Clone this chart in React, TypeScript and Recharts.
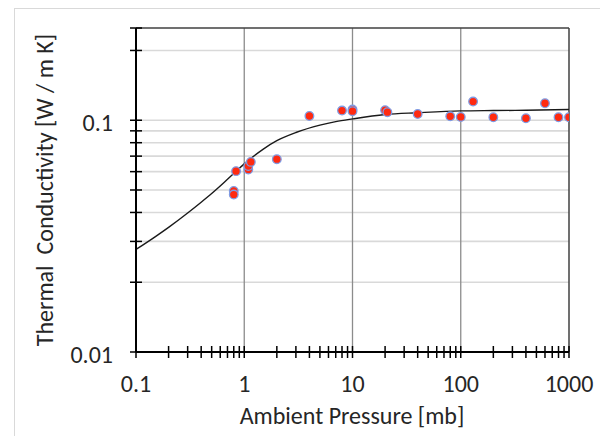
import { ComposedChart, XAxis, YAxis, Line, Scatter, ReferenceLine } from 'recharts'

// measured points: pressure [mb] / thermal conductivity [W/m K]
const pressure = [0.8, 0.8, 0.84, 1.09, 1.09, 1.15, 2, 4, 8, 10, 10, 20, 21, 40, 80, 100, 130, 200, 400, 600, 800, 1000]
const conductivity = [0.0495, 0.0478, 0.0603, 0.0613, 0.0634, 0.0661, 0.0679, 0.1043, 0.1101, 0.1112, 0.1094, 0.1104, 0.1083, 0.1064, 0.104, 0.1033, 0.1204, 0.103, 0.102, 0.1184, 0.103, 0.103]

// fitted curve
const curveP = [0.1, 0.15, 0.2, 0.3, 0.4, 0.5, 0.7, 1, 1.5, 2, 3, 5, 7, 10, 20, 40, 100, 200, 400, 1000]
const curveK = [0.0277, 0.0314, 0.0345, 0.0398, 0.0443, 0.0483, 0.0556, 0.0648, 0.0751, 0.0816, 0.0885, 0.0952, 0.0986, 0.1013, 0.1058, 0.1077, 0.1097, 0.1101, 0.1104, 0.1112]

const xTicks = [0.1, 0.2, 0.3, 0.4, 0.5, 0.6, 0.7, 0.8, 0.9, 1, 2, 3, 4, 5, 6, 7, 8, 9, 10, 20, 30, 40, 50, 60, 70, 80, 90, 100, 200, 300, 400, 500, 600, 700, 800, 900, 1000]
const xLabels = [0.1, 1, 10, 100, 1000]
const yTicks = [0.01, 0.02, 0.03, 0.04, 0.05, 0.06, 0.07, 0.08, 0.09, 0.1, 0.2, 0.25]
const yLabels = [0.01, 0.1]
const hGrid = [0.02, 0.03, 0.04, 0.05, 0.06, 0.07, 0.08, 0.09, 0.1, 0.2]
const vGrid = [1, 10, 100]

const points = pressure.map((x, i) => ({ x, y: conductivity[i] }))
const curve = curveP.map((x, i) => ({ x, y: curveK[i] }))

const FONT = 'Carlito, Calibri, Lato, sans-serif'
const TEXT = '#262626'
const FS = 24

const XTick = (props: any) => {
  const { x, y, payload } = props
  const v = payload.value
  return (
    <g>
      <line x1={x} x2={x} y1={y - 6} y2={y + 6} stroke="#000" strokeWidth={1.5} />
      {xLabels.includes(v) && (
        <text x={x} y={y + 40} textAnchor="middle" fontFamily={FONT} fontSize={FS} fill={TEXT}>
          {String(v)}
        </text>
      )}
    </g>
  )
}

const YTick = (props: any) => {
  const { x, y, payload } = props
  const v = payload.value
  return (
    <g>
      <line x1={x - 6} x2={x + 6} y1={y} y2={y} stroke="#000" strokeWidth={1.5} />
      {yLabels.includes(v) && (
        <text x={x - 23} y={y + 11} textAnchor="end" fontFamily={FONT} fontSize={FS} fill={TEXT}>
          {String(v)}
        </text>
      )}
    </g>
  )
}

const Dot = (props: any) => (
  <circle cx={props.cx} cy={props.cy} r={4.3} fill="#ff2a10" stroke="#7f9be3" strokeWidth={1.3} />
)

export default function App() {
  return (
    <div style={{ position: 'absolute', left: 0, top: 0, width: 600, height: 436, overflow: 'hidden', background: '#fff' }}>
      <div
        style={{
          position: 'absolute',
          left: 14,
          top: 8,
          width: 700,
          height: 600,
          border: '1px solid #d9d9d9',
        }}
      />
      <div style={{ position: 'absolute', left: 0, top: 0 }}>
        <ComposedChart width={600} height={436} margin={{ top: 28, right: 31, left: 36, bottom: 0 }}>
          <XAxis
            dataKey="x"
            type="number"
            scale="log"
            domain={[0.1, 1000]}
            allowDataOverflow
            ticks={xTicks}
            interval={0}
            tick={<XTick />}
            tickLine={false}
            tickSize={0}
            tickMargin={0}
            height={84}
            axisLine={{ stroke: '#000', strokeWidth: 2 }}
          />
          <YAxis
            type="number"
            scale="log"
            domain={[0.01, 0.25]}
            allowDataOverflow
            ticks={yTicks}
            interval={0}
            tick={<YTick />}
            tickLine={false}
            tickSize={0}
            tickMargin={0}
            width={100}
            axisLine={{ stroke: '#000', strokeWidth: 2 }}
          />
          {hGrid.map((v) => (
            <ReferenceLine key={'h' + v} y={v} stroke="#d9d9d9" strokeWidth={1.6} />
          ))}
          {vGrid.map((v) => (
            <ReferenceLine key={'v' + v} x={v} stroke="#8c8c8c" strokeWidth={1.3} />
          ))}
          <ReferenceLine y={0.25} stroke="#404040" strokeWidth={1.5} ifOverflow="visible" />
          <ReferenceLine x={1000} stroke="#404040" strokeWidth={1.5} ifOverflow="visible" />
          <Line
            data={curve}
            dataKey="y"
            type="monotone"
            stroke="#1a1a1a"
            strokeWidth={1.4}
            dot={false}
            activeDot={false}
            isAnimationActive={false}
          />
          <Scatter data={points} dataKey="y" shape={<Dot />} isAnimationActive={false} />
          <text x={352} y={424} textAnchor="middle" fontFamily={FONT} fontSize={FS} fill={TEXT}>
            Ambient Pressure [mb]
          </text>
          <text
            x={44}
            y={190}
            textAnchor="middle"
            dominantBaseline="central"
            transform="rotate(-90 44 190)"
            fontFamily={FONT}
            fontSize={FS}
            fill={TEXT}
            style={{ whiteSpace: 'pre' }}
          >
            {'Thermal  Conductivity [W / m K]'}
          </text>
        </ComposedChart>
      </div>
    </div>
  )
}
